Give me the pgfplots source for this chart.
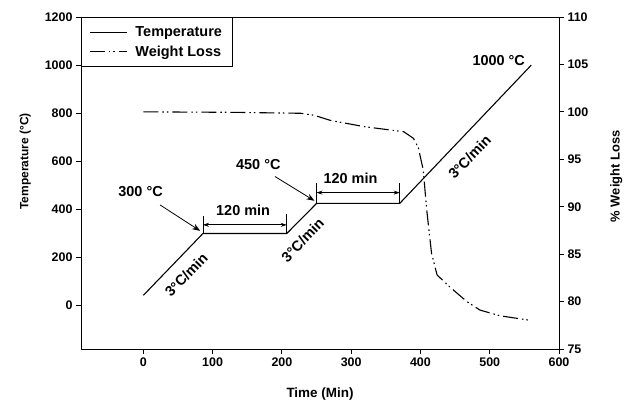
\documentclass[border=0pt]{standalone}
\usepackage{fontspec}
\setmainfont{Liberation Sans}
\usepackage{pgfplots}
\pgfplotsset{compat=1.18}
\usetikzlibrary{arrows.meta}

\newcommand{\annfont}{\fontsize{14.5}{16}\selectfont\bfseries}
\begin{document}
\begin{tikzpicture}
\pgfplotsset{
  every axis/.append style={
    scale only axis, width=478bp, height=332bp,
    font=\annfont,
    tick label style={font=\fontsize{12.5}{14}\selectfont\bfseries},
    /pgf/number format/assume math mode=true,
    /pgf/number format/1000 sep={},
    tick align=outside, major tick length=5bp,
    axis line style={line width=0.8pt},
    every tick/.style={black, line width=0.8pt},
  },
  wloss/.style={black, line width=1.1pt, dash pattern=on 15bp off 4bp on 1.5bp off 3bp on 1.5bp off 4bp},
}
\begin{axis}[
  xmin=-90, xmax=600, ymin=-180, ymax=1200,
  xtick={0,100,...,600}, ytick={0,200,...,1200},
  xtick pos=lower, ytick pos=left,
  xlabel={Time (Min)}, ylabel={Temperature (°C)},
  xlabel style={font=\fontsize{13.5}{15}\selectfont\bfseries},
  ylabel style={at={(ticklabel cs:0.565)}, font=\fontsize{12}{14}\selectfont\bfseries},
  ylabel shift=7bp, xlabel shift=15bp,
  legend style={at={(0,1)}, anchor=north west, draw=black, line width=0.8pt,
    inner xsep=8bp, inner ysep=7bp, row sep=4bp, font=\annfont,
    /tikz/every odd column/.append style={column sep=6bp}},
  legend cell align=left,
  legend image code/.code={\draw[#1] (0bp,0bp) -- (37bp,0bp);},
]
\addplot[black, line width=1.1pt] coordinates {
  (0,43) (86,300) (207,300) (250,425) (370,425) (560,1000)
};
\addlegendentry{Temperature}
\addlegendimage{wloss}
\addlegendentry{Weight Loss}
\coordinate (bl) at (rel axis cs:0,0);
% annotations
\node at (axis cs:-4,475) {300 °C};
\draw[line width=0.8pt, -{Stealth[length=8bp,width=6bp]}] (axis cs:24,419) -- (axis cs:82,311);
\node at (axis cs:166,586) {450 °C};
\draw[line width=0.8pt, -{Stealth[length=8bp,width=6bp]}] (axis cs:190,537) -- (axis cs:247,436);
\node at (axis cs:513,1021) {1000 °C};
\node at (axis cs:144,396) {120 min};
\draw[line width=0.8pt, {Stealth[length=6bp,width=4bp]}-{Stealth[length=6bp,width=4bp]}] (axis cs:86,336) -- (axis cs:207,336);
\draw[line width=0.8pt] (axis cs:86,300) -- (axis cs:86,374) (axis cs:207,300) -- (axis cs:207,380);
\node at (axis cs:299,530) {120 min};
\draw[line width=0.8pt, {Stealth[length=6bp,width=4bp]}-{Stealth[length=6bp,width=4bp]}] (axis cs:250,470) -- (axis cs:370,470);
\draw[line width=0.8pt] (axis cs:250,425) -- (axis cs:250,509) (axis cs:370,425) -- (axis cs:370,509);
\node[rotate=46] at (axis cs:62,128) {3°C/min};
\node[rotate=46] at (axis cs:230,272) {3°C/min};
\node[rotate=46] at (axis cs:471,618) {3°C/min};
\end{axis}
\begin{axis}[
  axis x line=none, axis y line*=right,
  xmin=-90, xmax=600, ymin=75, ymax=110,
  ytick={75,80,...,110},
  ylabel={\% Weight Loss},
  ylabel style={at={(ticklabel cs:0.52)}, font=\fontsize{13}{15}\selectfont\bfseries},
  ylabel shift=15bp,
]
\addplot[wloss] coordinates {
  (0,100) (130,99.95) (227,99.85) (246,99.65) (270,99.1) (318,98.45)
  (376,97.9) (390,97.2) (397,96.2) (400,95.2) (404,93.9) (409,89.7)
  (416,85.1) (424,82.8) (443,81.5) (467,80.0) (486,79.1) (515,78.5)
  (556,78.05)
};
\end{axis}
\pgfresetboundingbox
\path[use as bounding box] ([shift={(-81bp,-53bp)}]bl) rectangle ([shift={(545bp,349bp)}]bl);
\end{tikzpicture}
\end{document}
